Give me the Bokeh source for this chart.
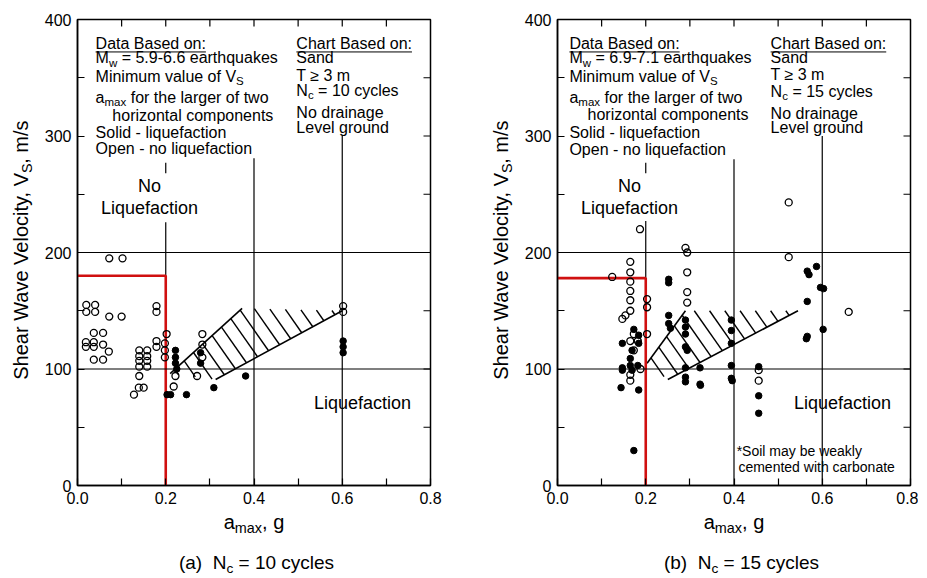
import numpy as np
from bokeh.plotting import figure
from bokeh.layouts import row, column
from bokeh.models import Label, Span, FixedTicker, Range1d, PrintfTickFormatter
from bokeh.embed import file_html
from bokeh.resources import INLINE

FONT = "Liberation Sans"

# ---------------- data ----------------
x_major = [0.0, 0.2, 0.4, 0.6, 0.8]
x_minor = [0.1, 0.3, 0.5, 0.7]
x_top = [0.1, 0.2, 0.3, 0.4, 0.5, 0.6, 0.7]
y_major = [0, 100, 200, 300, 400]
y_minor = [50, 150, 250, 350]
y_right = [50, 100, 150, 200, 250, 300, 350]
grid_h = [100, 200]

# panel (a) Nc = 10 cycles
a_open_x = [0.072, 0.102, 0.02, 0.04, 0.02, 0.04, 0.072, 0.100, 0.179, 0.179,
            0.037, 0.058, 0.019, 0.019, 0.037, 0.037, 0.058, 0.071, 0.037, 0.058,
            0.14, 0.158, 0.14, 0.158, 0.14, 0.158, 0.14, 0.158, 0.14, 0.139, 0.15, 0.128,
            0.179, 0.179, 0.202, 0.198, 0.198, 0.198, 0.222, 0.218, 0.271,
            0.283, 0.283, 0.283, 0.602, 0.602]
a_open_y = [195, 195, 155, 155, 149, 149, 145, 145, 154, 149,
            131, 131, 123, 119, 123, 119, 121, 115, 108, 108,
            116, 116, 111, 111, 107, 107, 102, 102, 94, 84, 84, 78,
            124, 119, 130, 122, 116, 110, 94, 85, 94,
            130, 121, 110, 154, 149]
a_solid_x = [0.222, 0.222, 0.222, 0.225, 0.203, 0.211, 0.247, 0.309, 0.381,
             0.279, 0.279, 0.602, 0.602, 0.602]
a_solid_y = [116, 110, 105, 100, 78, 78, 78, 84, 94,
             114, 105, 124, 119, 114]
a_limit_x = [0.0, 0.2, 0.2]
a_limit_y = [180, 180, 0]
a_band_x = [0.21, 0.373, 0.60, 0.313]
a_band_y = [96, 152, 150, 91]
a_vgrid_x = [0.2, 0.2, 0.4, 0.6]
a_vgrid_top = [277, 226, 281, 300]
a_vgrid_bot = [268, 180, 0, 0]

# panel (b) Nc = 15 cycles
b_open_x = [0.187, 0.29, 0.294, 0.294, 0.294, 0.294,
            0.165, 0.165, 0.165, 0.165, 0.165, 0.165, 0.124,
            0.147, 0.154, 0.173, 0.165, 0.182, 0.173,
            0.203, 0.203, 0.203, 0.524, 0.524, 0.66,
            0.456, 0.456, 0.165, 0.165, 0.188]
b_open_y = [220, 204, 200, 183, 166, 157,
            192, 183, 175, 167, 159, 150, 179,
            143, 146, 130, 124, 124, 116,
            160, 153, 130, 243, 196, 149,
            99, 90, 90, 95, 100]
b_solid_x = [0.252, 0.252, 0.252, 0.252, 0.256,
             0.29, 0.29, 0.29, 0.29, 0.294, 0.29, 0.29, 0.29,
             0.323, 0.323, 0.324,
             0.394, 0.394, 0.394, 0.394, 0.394, 0.396,
             0.456, 0.456, 0.456,
             0.566, 0.57, 0.587, 0.596, 0.603, 0.566, 0.566, 0.564, 0.602,
             0.147, 0.147, 0.147, 0.144,
             0.173, 0.169, 0.165, 0.165, 0.169, 0.184, 0.173,
             0.184, 0.184, 0.182]
b_solid_y = [177, 174, 146, 139, 135,
             142, 136, 130, 119, 116, 101, 93, 89,
             101, 87, 86,
             142, 133, 122, 103, 92, 90,
             102, 77, 62,
             184, 181, 188, 170, 169, 158, 128, 126, 134,
             122, 101, 99, 84,
             134, 116, 109, 103, 99, 82, 30,
             129, 122, 103]
b_limit_x = [0.0, 0.2, 0.2]
b_limit_y = [178, 178, 0]
b_band_x = [0.203, 0.29, 0.545, 0.25]
b_band_y = [105, 150, 150, 91]
b_vgrid_x = [0.2, 0.2, 0.4, 0.6]
b_vgrid_top = [277, 227, 280, 300]
b_vgrid_bot = [268, 178, 0, 0]

# ---------------- layout helpers ----------------
SX = 353 / 0.8      # px per unit a_max
SY = 466 / 400      # px per m/s
SUB = 0.72
TICK = 7
PANEL_H = 510
BOTTOM_H = 66
NB = "\u00a0"

WID = {' ': 278, NB: 278, '!': 278, '(': 333, ')': 333, '*': 389, ',': 278, '-': 333,
       '.': 278, '/': 278, ':': 278, '=': 584, '\u2265': 549,
       'A': 667, 'B': 667, 'C': 722, 'D': 722, 'E': 667, 'L': 556, 'M': 833, 'N': 722,
       'O': 778, 'S': 667, 'T': 611, 'V': 667, 'W': 944,
       'a': 556, 'b': 556, 'c': 500, 'd': 556, 'e': 556, 'f': 278, 'g': 556, 'h': 556,
       'i': 222, 'k': 500, 'l': 222, 'm': 833, 'n': 556, 'o': 556, 'p': 556, 'q': 556,
       'r': 333, 's': 500, 't': 278, 'u': 556, 'v': 500, 'w': 722, 'x': 500, 'y': 500, 'z': 500}


def tw(s, size):
    return sum(WID.get(ch, 556) for ch in s) / 1000.0 * size


def keep_lead(t):
    # leading blanks would be collapsed in SVG text: keep them as no-break spaces
    n = len(t) - len(t.lstrip(" "))
    return NB * n + t[n:]


def add_text(p, x, y, pieces, size, align="left", underline=False, sx=SX, sy=SY):
    total = sum(tw(t, size * SUB if s else size) for t, s in pieces)
    off = 0.0 if align == "left" else -total / 2.0
    start = off
    for t, s in pieces:
        fs = size * SUB if s else size
        yy = y - (0.3 * size / sy if s else 0.0)
        p.add_layout(Label(x=x, y=yy, x_offset=off, text=keep_lead(t), text_font=FONT,
                           text_font_size=f"{fs:.1f}px", text_baseline="middle",
                           text_align="left", text_color="black"))
        off += tw(t, fs)
    if underline:
        uy = y - 0.55 * size / sy
        p.line([x + start / sx, x + off / sx], [uy, uy], line_color="black", line_width=1)


def vlabel(p, x, y, text, size, align):
    p.add_layout(Label(x=x, y=y, text=text, text_font=FONT, angle=90, angle_units="deg",
                       text_font_size=f"{size:.1f}px", text_baseline="middle",
                       text_align=align, text_color="black"))


def hatch(xs, ys, spacing=12.5, ang=55.0):
    th = np.radians(ang)
    d = np.array([np.cos(th), -np.sin(th)])
    n = np.array([np.sin(th), np.cos(th)])
    P = np.column_stack([np.array(xs) * SX, np.array(ys) * SY])
    proj = P @ n
    x0, y0, x1, y1 = [], [], [], []
    for c in np.arange(proj.min() + spacing * 0.5, proj.max(), spacing):
        pts = []
        for i in range(len(P)):
            p0, p1 = P[i], P[(i + 1) % len(P)]
            a0, a1 = p0 @ n - c, p1 @ n - c
            if (a0 < 0) != (a1 < 0):
                t = a0 / (a0 - a1)
                pts.append(p0 + t * (p1 - p0))
        pts.sort(key=lambda q: q @ d)
        for j in range(0, len(pts) - 1, 2):
            x0.append(pts[j][0] / SX); y0.append(pts[j][1] / SY)
            x1.append(pts[j + 1][0] / SX); y1.append(pts[j + 1][1] / SY)
    return x0, y0, x1, y1


def blank_fig(w, h):
    f = figure(width=w, height=h, x_range=Range1d(0, w), y_range=Range1d(0, h),
               output_backend="svg", toolbar_location=None, min_border=0,
               x_axis_location=None, y_axis_location=None)
    f.grid.visible = False
    f.outline_line_color = None
    f.background_fill_color = "white"
    f.border_fill_color = "white"
    return f


def make_panel(width, right_border, open_x, open_y, solid_x, solid_y, limit_x, limit_y,
               band_x, band_y, vg_x, vg_top, vg_bot, box, soil_note):
    p = figure(width=width, height=PANEL_H, x_range=Range1d(0, 0.8), y_range=Range1d(0, 400),
               output_backend="svg", toolbar_location=None,
               min_border_left=39, min_border_right=right_border,
               min_border_top=19, min_border_bottom=25)
    p.background_fill_color = "white"
    p.border_fill_color = "white"
    p.grid.visible = False
    p.outline_line_color = "black"
    p.outline_line_width = 1.5

    p.xaxis.ticker = FixedTicker(ticks=x_major, minor_ticks=x_minor)
    p.xaxis.formatter = PrintfTickFormatter(format="%.1f")
    p.yaxis.ticker = FixedTicker(ticks=y_major, minor_ticks=y_minor)
    for ax in (p.xaxis, p.yaxis):
        ax.major_tick_in = TICK
        ax.major_tick_out = 0
        ax.minor_tick_in = TICK
        ax.minor_tick_out = 0
        ax.axis_line_width = 1.5
        ax.major_tick_line_width = 1.2
        ax.minor_tick_line_width = 1.2
        ax.axis_line_color = "black"
        ax.major_tick_line_color = "black"
        ax.minor_tick_line_color = "black"
        ax.major_label_text_font = FONT
        ax.major_label_text_font_size = "16px"
        ax.major_label_text_color = "black"
    p.xaxis.major_label_standoff = 6
    p.yaxis.major_label_standoff = 6

    # inward ticks on top and right edges
    p.segment(x0=x_top, y0=[400] * len(x_top), x1=x_top, y1=[400 - TICK / SY] * len(x_top),
              line_color="black", line_width=1.2)
    p.segment(x0=[0.8] * len(y_right), y0=y_right, x1=[0.8 - TICK / SX] * len(y_right),
              y1=y_right, line_color="black", line_width=1.2)

    # reference lines
    for g in grid_h:
        p.add_layout(Span(location=g, dimension="width", line_color="black", line_width=1.2))
    p.segment(x0=vg_x, y0=vg_top, x1=vg_x, y1=vg_bot, line_color="black", line_width=1.2)

    # hatched band
    hx0, hy0, hx1, hy1 = hatch(band_x, band_y)
    p.segment(x0=hx0, y0=hy0, x1=hx1, y1=hy1, line_color="black", line_width=1.4)
    p.line([band_x[0], band_x[1]], [band_y[0], band_y[1]], line_color="black", line_width=1.6)
    p.line([band_x[3], band_x[2]], [band_y[3], band_y[2]], line_color="black", line_width=1.6)

    # boundary (red)
    p.line(limit_x, limit_y, line_color="#d01010", line_width=2.6)

    # points
    p.scatter(open_x, open_y, marker="circle", size=7, fill_color=None,
              line_color="black", line_width=1.3)
    p.scatter(solid_x, solid_y, marker="circle", size=6.5, fill_color="black",
              line_color="black")

    # text box
    for (x, y, pieces, ul) in box:
        add_text(p, x, y, pieces, 16, underline=ul)

    add_text(p, 0.163, 257.5, [("No", 0)], 18, align="center")
    add_text(p, 0.163, 237.8, [("Liquefaction", 0)], 18, align="center")
    add_text(p, 0.646, 71, [("Liquefaction", 0)], 18, align="center")
    if soil_note:
        add_text(p, 0.406, 30, [("*Soil may be weakly", 0)], 14)
        add_text(p, 0.41, 16.3, [("cemented with carbonate", 0)], 14)
    return p


def ylabel_fig(w, cx):
    f = blank_fig(w, PANEL_H)
    ysub = 342  # where the subscript starts (from bottom of this strip)
    vlabel(f, cx, ysub, "Shear Wave Velocity, V", 20, "right")
    vlabel(f, cx + 6, ysub, "S", 20 * SUB, "left")
    vlabel(f, cx, ysub + tw("S", 20 * SUB) + 0.5, ", m/s", 20, "left")
    return f


def bottom_fig(w, xlab_cx, cap_cx, caption, nc):
    f = blank_fig(w, BOTTOM_H)
    add_text(f, xlab_cx, 55, [("a", 0), ("max", 1), (", g", 0)], 20, align="center", sx=1, sy=1)
    add_text(f, cap_cx, 14, [(caption, 0), ("c", 1), (f" = {nc} cycles", 0)], 19,
             align="center", sx=1, sy=1)
    return f


box_a = [
    (0.041, 379.7, [("Data Based on:", 0)], True),
    (0.041, 367, [("M", 0), ("w", 1), (" = 5.9-6.6 earthquakes", 0)], False),
    (0.041, 351, [("Minimum value of V", 0), ("S", 1)], False),
    (0.041, 333, [("a", 0), ("max", 1), (" for the larger of two", 0)], False),
    (0.079, 317.6, [("horizontal components", 0)], False),
    (0.041, 303.3, [("Solid - liquefaction", 0)], False),
    (0.041, 289, [("Open - no liquefaction", 0)], False),
    (0.496, 379.7, [("Chart Based on:", 0)], True),
    (0.496, 367, [("Sand", 0)], False),
    (0.496, 352, [("T \u2265 3 m", 0)], False),
    (0.496, 339, [("N", 0), ("c", 1), (" = 10 cycles", 0)], False),
    (0.496, 320, [("No drainage", 0)], False),
    (0.496, 307, [("Level ground", 0)], False),
]
box_b = [
    (0.027, 379.7, [("Data Based on:", 0)], True),
    (0.027, 367, [("M", 0), ("w", 1), (" = 6.9-7.1 earthquakes", 0)], False),
    (0.027, 351, [("Minimum value of V", 0), ("S", 1)], False),
    (0.027, 333, [("a", 0), ("max", 1), (" for the larger of two", 0)], False),
    (0.068, 318.5, [("horizontal components", 0)], False),
    (0.027, 303.3, [("Solid - liquefaction", 0)], False),
    (0.027, 288.4, [("Open - no liquefaction", 0)], False),
    (0.483, 379.7, [("Chart Based on:", 0)], True),
    (0.483, 367, [("Sand", 0)], False),
    (0.483, 353, [("T \u2265 3 m", 0)], False),
    (0.483, 338.5, [("N", 0), ("c", 1), (" = 15 cycles", 0)], False),
    (0.483, 319.7, [("No drainage", 0)], False),
    (0.483, 307, [("Level ground", 0)], False),
]

pa = make_panel(450, 58, a_open_x, a_open_y, a_solid_x, a_solid_y, a_limit_x, a_limit_y,
                a_band_x, a_band_y, a_vgrid_x, a_vgrid_top, a_vgrid_bot, box_a, False)
pb = make_panel(400, 8, b_open_x, b_open_y, b_solid_x, b_solid_y, b_limit_x, b_limit_y,
                b_band_x, b_band_y, b_vgrid_x, b_vgrid_top, b_vgrid_bot, box_b, True)

top_row = row(ylabel_fig(38, 20), pa, ylabel_fig(30, 12), pb)
bottom_row = row(bottom_fig(488, 253.5, 256, "(a)" + NB + NB + "N", 10),
                 bottom_fig(430, 245.5, 253, "(b)" + NB + NB + "N", 15))
layout = column(top_row, bottom_row)
open("out.html", "w").write(file_html(layout, INLINE))
